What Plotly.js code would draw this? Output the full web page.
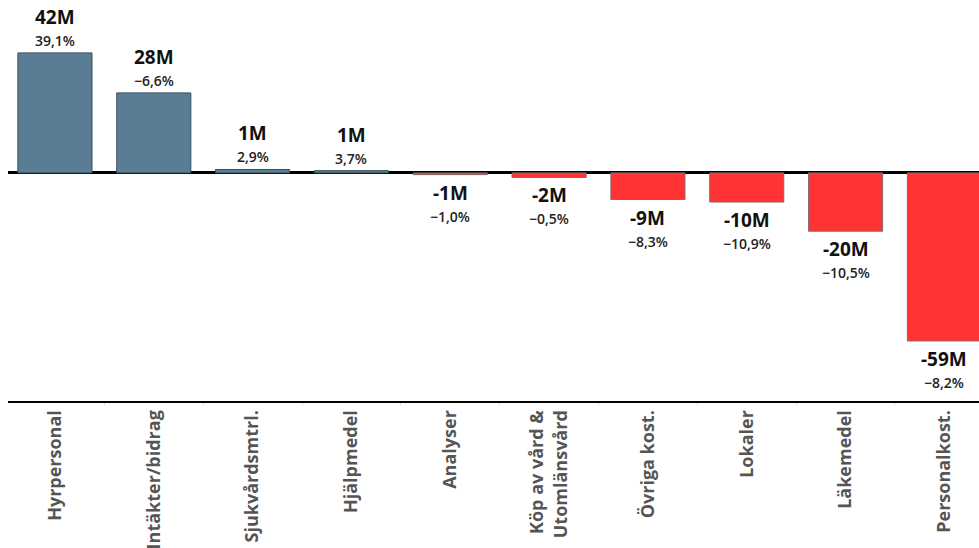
<!DOCTYPE html>
<html>
<head>
<meta charset="utf-8">
<script src="https://cdn.plot.ly/plotly-3.0.1.min.js"></script>
<style>html,body{margin:0;padding:0;background:#fff;}#chart{width:979px;height:548px;}</style>
</head>
<body>
<div id="chart"></div>
<script>
const categories = ["Hyrpersonal", "Intäkter/bidrag", "Sjukvårdsmtrl.", "Hjälpmedel", "Analyser",
  "Köp av vård &<br>Utomlänsvård", "Övriga kost.", "Lokaler", "Läkemedel", "Personalkost."];
const values = [42.0, 28.0, 1.2, 0.8, -0.6, -1.6, -9.3, -10.2, -20.4, -58.8];
const valueLabels = ["42M", "28M", "1M", "1M", "-1M", "-2M", "-9M", "-10M", "-20M", "-59M"];
const pctLabels = ["39,1%", "−6,6%", "2,9%", "3,7%", "−1,0%", "−0,5%", "−8,3%", "−10,9%", "−10,5%", "−8,2%"];

const posColor = "#587d94", negColor = "#ff3333";

const trace = {
  type: "bar",
  x: categories,
  y: values,
  width: 0.75,
  marker: {
    color: values.map(v => v >= 0 ? posColor : negColor),
    line: { color: values.map(v => v >= 0 ? "#3a4f5c" : "#8a6a6a"), width: 1 }
  },
  hoverinfo: "none"
};

const annotations = [];
categories.forEach((c, i) => {
  const v = values[i];
  const pos = v >= 0;
  annotations.push({
    x: c, y: v, xref: "x", yref: "y", showarrow: false,
    text: valueLabels[i], borderpad: 0,
    yanchor: pos ? "bottom" : "top",
    yshift: pos ? 22 : -4,
    font: { family: "Open Sans, sans-serif", size: 19, color: "#111", weight: 700 }
  });
  annotations.push({
    x: c, y: v, xref: "x", yref: "y", showarrow: false,
    text: pctLabels[i], borderpad: 0,
    yanchor: pos ? "bottom" : "top",
    yshift: pos ? 2 : -31,
    font: { family: "Open Sans, sans-serif", size: 14, color: "#222", weight: 600 }
  });
});

const layout = {
  width: 979, height: 548,
  margin: { l: 8, r: 0, t: 0, b: 147 },
  paper_bgcolor: "#fff", plot_bgcolor: "#fff",
  showlegend: false,
  bargap: 0.25,
  xaxis: {
    type: "category",
    range: [-0.475, 9.35],
    showline: true, linecolor: "#000", linewidth: 2,
    showgrid: false, zeroline: false,
    tickangle: -90,
    ticks: "outside", tickson: "boundaries", ticklen: 3, tickcolor: "#e4e4e4",
    tickfont: { family: "Open Sans, sans-serif", size: 18, color: "#555", weight: 700 },
    fixedrange: true
  },
  yaxis: {
    range: [-79.8, 60.5],
    showgrid: false, showticklabels: false, ticks: "",
    zeroline: true, zerolinecolor: "#000", zerolinewidth: 3,
    showline: false, fixedrange: true
  },
  annotations: annotations
};

Plotly.newPlot("chart", [trace], layout, { displayModeBar: false, staticPlot: true });
</script>
</body>
</html>
